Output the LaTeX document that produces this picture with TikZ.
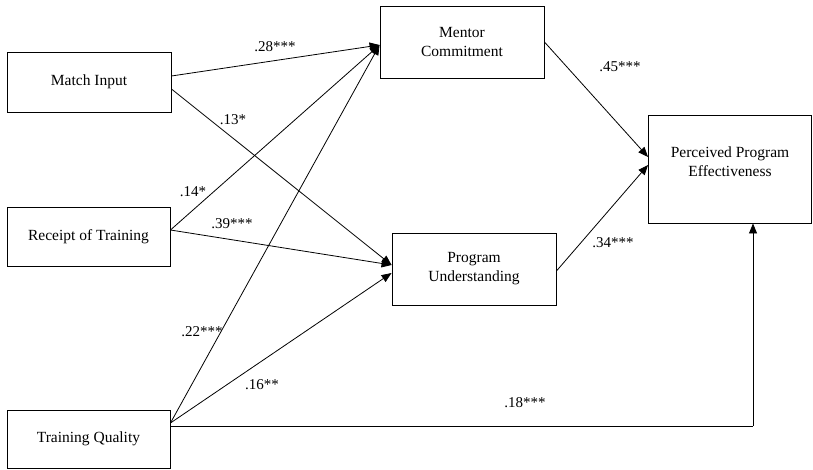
\documentclass[tikz,border=0pt]{standalone}
\usepackage{fontspec}
\setmainfont{Liberation Serif}
\usetikzlibrary{arrows.meta}
\begin{document}
\begin{tikzpicture}[x=1pt,y=-1pt,
  box/.style={draw,line width=0.9pt,align=center,inner sep=0pt,font=\fontsize{15.5}{19}\selectfont},
  txt/.style={align=center,inner sep=0pt,font=\fontsize{15.5}{19}\selectfont},
  coef/.style={inner sep=0pt,font=\fontsize{15}{17}\selectfont},
  path/.style={draw,line width=0.8pt,-{Triangle[length=10pt,width=8pt]}}]
\useasboundingbox (0,0) rectangle (813,470);
\node[box,minimum width=164pt,minimum height=60pt] (mi) at (89,82) {Match Input};
\node[box,minimum width=163pt,minimum height=59pt] (rt) at (88.5,236.5) {Receipt of Training};
\node[box,minimum width=163pt,minimum height=58pt] (tq) at (88.5,439) {Training Quality};
\node[box,minimum width=164pt,minimum height=72pt] (mc) at (462,42) {Mentor\\Commitment};
\node[box,minimum width=164pt,minimum height=72pt] (pu) at (474,269) {Program\\Understanding};
\node[box,minimum width=163pt,minimum height=108pt] (pe) at (730,169) {};
\node[txt] (petxt) at (730,162) {Perceived Program\\Effectiveness};
\coordinate (corner) at (753,426);

\draw[path] ([yshift=6pt]mi.east) -- ([yshift=-3pt]mc.west);
\draw[path] ([yshift=-7pt]mi.east) -- ([yshift=4pt]pu.west);
\draw[path] ([yshift=6.5pt]rt.east) -- ([yshift=-3pt]mc.west);
\draw[path] ([yshift=6.5pt]rt.east) -- ([yshift=4pt]pu.west);
\draw[path] ([yshift=16pt]tq.east) -- ([yshift=-3pt]mc.west);
\draw[path] ([yshift=16pt]tq.east) -- ([yshift=-4pt]pu.west);
\draw[line width=0.8pt] ([yshift=13pt]tq.east) -- (corner);
\draw[path] (corner) -- ([xshift=23pt]pe.south);
\draw[path] (mc.east) -- ([yshift=12pt]pe.west);
\draw[path] ([yshift=-2pt]pu.east) -- ([yshift=4pt]pe.west);

\node[coef] (l28) at (275,47) {.28***};
\node[coef] (l13) at (233,120) {.13*};
\node[coef] (l14) at (193,192) {.14*};
\node[coef] (l39) at (232,224) {.39***};
\node[coef] (l22) at (202,332) {.22***};
\node[coef] (l16) at (262,385) {.16**};
\node[coef] (l45) at (620,67) {.45***};
\node[coef] (l34) at (613,243) {.34***};
\node[coef] (l18) at (525,403) {.18***};
\end{tikzpicture}
\end{document}
